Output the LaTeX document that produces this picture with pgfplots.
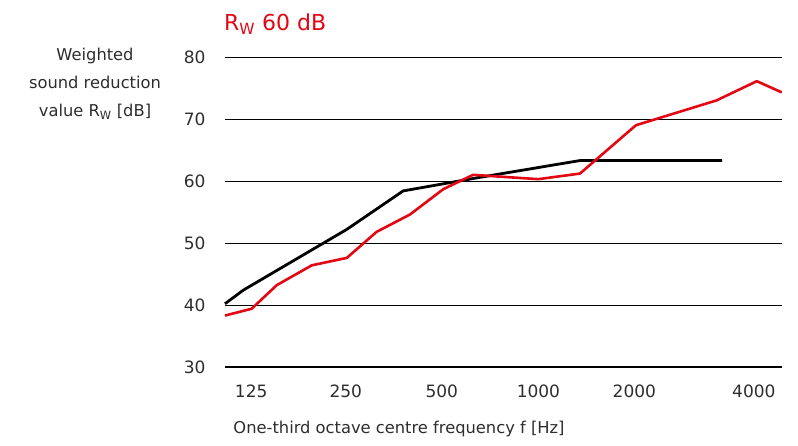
\documentclass[border=0pt]{standalone}
\usepackage{pgfplots}
\pgfplotsset{compat=1.18}
\usepackage{fontspec}
\setmainfont{DejaVu Sans}
\definecolor{wred}{RGB}{227,6,19}
\definecolor{txt}{RGB}{45,45,45}
\begin{document}
\begin{tikzpicture}[x=1pt,y=1pt]
\useasboundingbox (0pt,0pt) rectangle (798pt,-445pt);
\begin{axis}[
  at={(225pt,-367pt)}, anchor=south west,
  scale only axis, width=556.7pt, height=310pt,
  xmin=0, xmax=17, ymin=30, ymax=80,
  axis line style={draw=none},
  clip=false,
  ytick={30,40,...,80},
  ymajorgrids,
  major grid style={black, line width=0.8pt},
  major tick length=0pt,
  xtick={0.80,3.69,6.62,9.57,12.5,16.15},
  xticklabels={125,250,500,1000,2000,4000},
  /pgf/number format/assume math mode=true,
  ticklabel style={font=\fontsize{17}{20}\selectfont, text=txt},
  yticklabel style={anchor=east, xshift=-16pt},
  xticklabel style={anchor=center, yshift=-24pt},
]
\addplot[black, line width=2pt, forget plot] coordinates {(0,30) (17,30)};
\addplot[black, line width=2.8pt, line join=round] coordinates {
 (0,40.2) (0.56,42.4) (3.72,52.2) (5.44,58.4) (7.79,60.6) (10.84,63.3) (15.18,63.3)};
\addplot[wred, line width=2.6pt, line join=round] coordinates {
 (0,38.3) (0.815,39.4) (1.58,43.2) (2.65,46.4) (3.72,47.6) (4.63,51.8) (5.65,54.6)
 (6.67,58.7) (7.58,61.0) (8.4,60.7) (9.57,60.3) (10.84,61.2) (12.55,69.0)
 (15.01,73.0) (16.24,76.1) (17.0,74.3)};
\end{axis}
\node[anchor=base west, text=wred, font=\fontsize{22}{26}\selectfont, inner sep=0pt] at (224pt,-30pt) {R\textsubscript{W} 60 dB};
\node[align=center, text=txt, font=\fontsize{16.3}{28}\selectfont, inner sep=0pt] at (95pt,-84pt) {Weighted\\sound reduction\\value R\textsubscript{W} [dB]};
\node[anchor=base, text=txt, font=\fontsize{16.3}{20}\selectfont, inner sep=0pt] at (399pt,-433pt) {One-third octave centre frequency f [Hz]};
\end{tikzpicture}
\end{document}
